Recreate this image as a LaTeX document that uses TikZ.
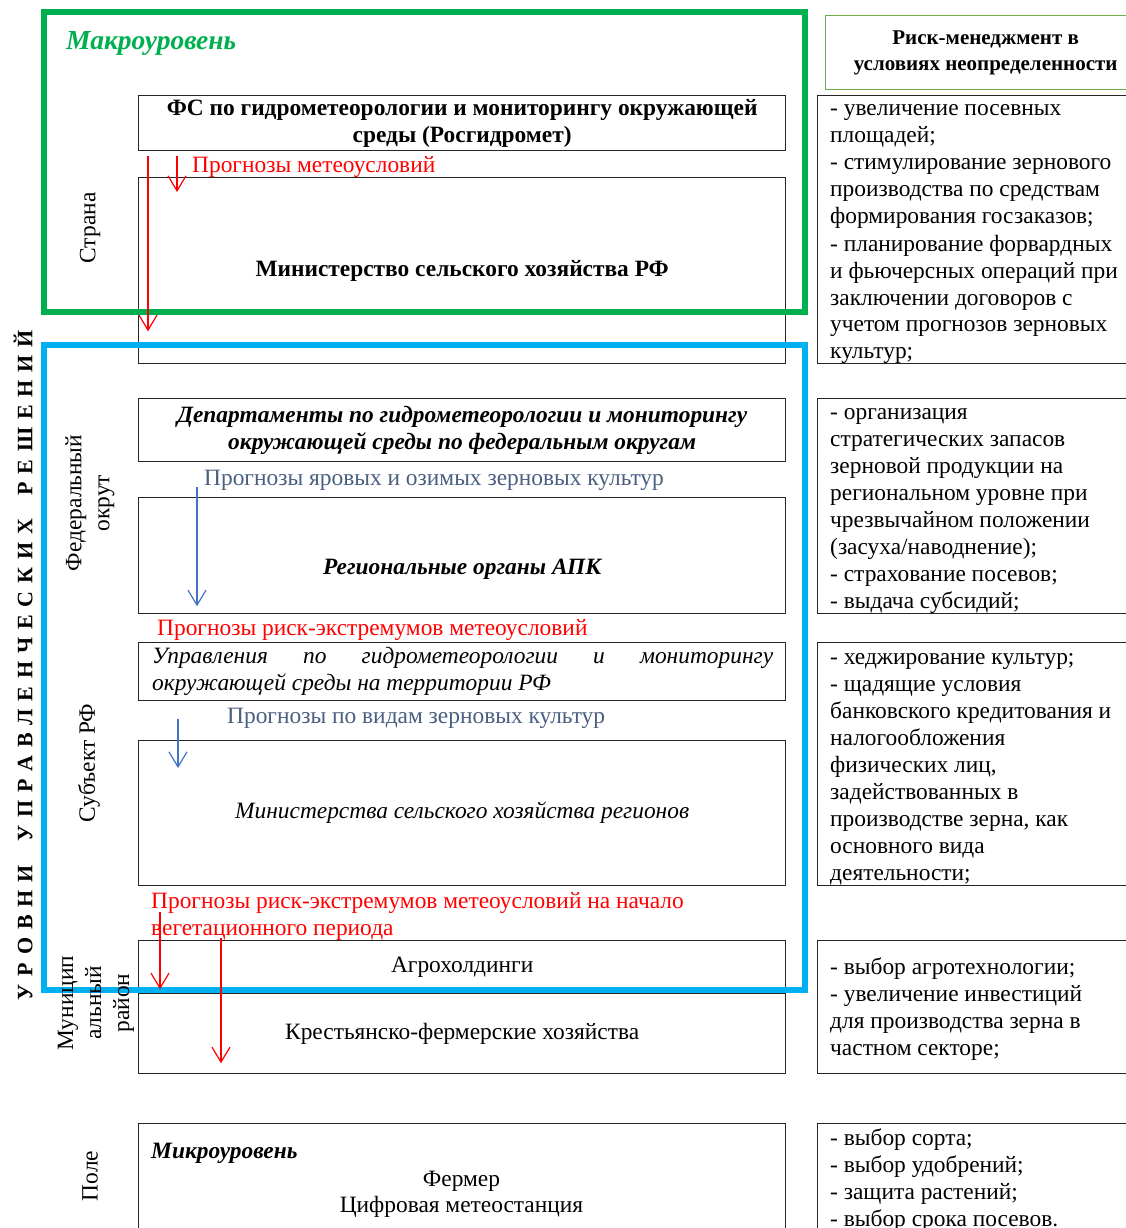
\documentclass[tikz,border=0pt]{standalone}
\usepackage{fontspec}
\setmainfont{Liberation Serif}
\usetikzlibrary{arrows.meta,calc}
\definecolor{mgreen}{HTML}{00B050}
\definecolor{mblue}{HTML}{00B0F0}
\definecolor{mred}{HTML}{FF0000}
\definecolor{arrblue}{HTML}{4472C4}
\definecolor{lblblue}{HTML}{4A5F80}
\definecolor{hdrgreen}{HTML}{70AD47}
\newcommand{\fs}[1]{\fontsize{#1}{27}\selectfont}
\begin{document}
\begin{tikzpicture}[x=1pt,y=1pt,
  box/.style={draw=black!85, line width=1.3pt, inner sep=0pt, anchor=north west},
  rbox/.style={draw=black!85, line width=1.3pt, inner sep=0pt, anchor=north west, minimum width=320pt},
  rtext/.style={anchor=base west, inner sep=0pt, font=\fs{23.4}},
  side/.style={rotate=90, inner sep=0pt, align=center, font=\fontsize{23.4}{28}\selectfont},
  lbl/.style={anchor=base west, inner sep=0pt, font=\fs{23.4}},
  frame/.style={line width=6pt},
  arr/.style={-{Straight Barb[length=15pt,width=18pt]}, line width=1.2pt}]
\useasboundingbox (0,0) rectangle (1126,-1228);
\fill[white] (0,0) rectangle (1126,-1228);

% main boxes
\node[box, minimum width=647pt, minimum height=55pt, align=center, font=\fs{23.4}\bfseries] (b1) at (138,-95)
  {ФС по гидрометеорологии и мониторингу окружающей\\среды (Росгидромет)};
\node[box, minimum width=647pt, minimum height=186pt, font=\fs{23.4}\bfseries] (b2) at (138,-177)
  {Министерство сельского хозяйства РФ};
\node[box, minimum width=647pt, minimum height=63pt, align=center, font=\fs{23.4}\bfseries\itshape] (b3) at (138,-398)
  {Департаменты по гидрометеорологии и мониторингу\\окружающей среды по федеральным округам};
\node[box, minimum width=647pt, minimum height=116pt] (b4) at (138,-497) {};
\node[font=\fs{23.4}\bfseries\itshape, inner sep=0pt] (b4t) at ($(b4.center)+(0,-14)$) {Региональные органы АПК};
\node[box, minimum width=647pt, minimum height=58pt] (b5) at (138,-642) {};
\node[anchor=west, inner sep=0pt, align=left, font=\fs{23.4}\itshape] (b5t) at ($(b5.west)+(14,0)$)
  {\makebox[621pt][s]{Управления по гидрометеорологии и мониторингу}\\окружающей среды на территории РФ};
\node[box, minimum width=647pt, minimum height=145pt, font=\fs{23.4}\itshape] (b6) at (138,-740)
  {Министерства сельского хозяйства регионов};
\node[box, minimum width=647pt, minimum height=53pt, font=\fs{23.4}] (b7) at (138,-940) {Агрохолдинги};
\node[box, minimum width=647pt, minimum height=80pt, font=\fs{23.4}] (b8) at (138,-993) {Крестьянско-фермерские хозяйства};
\node[box, minimum width=647pt, minimum height=120pt] (b9) at (138,-1123) {};
\node[anchor=base west, inner sep=0pt, font=\fs{23.4}\bfseries\itshape] (b9a) at (151,-1158) {Микроуровень};
\node[anchor=base, inner sep=0pt, font=\fs{23.4}] (b9b) at (461.5,-1186) {Фермер};
\node[anchor=base, inner sep=0pt, font=\fs{23.4}] (b9c) at (461.5,-1212) {Цифровая метеостанция};

% frames
\draw[frame, mgreen] (44,-12) rectangle (805,-312);
\draw[frame, mblue] (44,-345) rectangle (805,-990);
\node[anchor=base west, inner sep=0pt, text=mgreen, font=\fontsize{27.5}{30}\selectfont\bfseries\itshape] (macro) at (66,-50) {Макроуровень};

% right column
\node[draw=hdrgreen, line width=1.3pt, anchor=north west, minimum width=320pt, minimum height=74pt, align=center, inner sep=0pt, font=\fontsize{21}{26}\selectfont\bfseries] (hdr) at (825,-15)
  {Риск-менеджмент в\\условиях неопределенности};
\node[rbox, minimum height=268pt] (r1) at (817,-95) {};
\node[rbox, minimum height=215pt] (r2) at (817,-398) {};
\node[rbox, minimum height=243pt] (r3) at (817,-642) {};
\node[rbox, minimum height=133pt] (r4) at (817,-940) {};
\node[rbox, minimum height=120pt] (r5) at (817,-1123) {};

\node[rtext] (r1t) at (830,-116) {\parbox[t]{300pt}{\raggedright\fs{23.4}- увеличение посевных\\площадей;\\- стимулирование зернового\\производства по средствам\\формирования госзаказов;\\- планирование форвардных\\и фьючерсных операций при\\заключении договоров с\\учетом прогнозов зерновых\\культур;}};
\node[rtext] (r2t) at (830,-419) {\parbox[t]{300pt}{\raggedright\fs{23.4}- организация\\стратегических запасов\\зерновой продукции на\\региональном уровне при\\чрезвычайном положении\\(засуха/наводнение);\\- страхование посевов;\\- выдача субсидий;}};
\node[rtext] (r3t) at (830,-664) {\parbox[t]{300pt}{\raggedright\fs{23.4}- хеджирование культур;\\- щадящие условия\\банковского кредитования и\\налогообложения\\физических лиц,\\задействованных в\\производстве зерна, как\\основного вида\\деятельности;}};
\node[rtext] (r4t) at (830,-974) {\parbox[t]{300pt}{\raggedright\fs{23.4}- выбор агротехнологии;\\- увеличение инвестиций\\для производства зерна в\\частном секторе;}};
\node[rtext] (r5t) at (830,-1145) {\parbox[t]{300pt}{\raggedright\fs{23.4}- выбор сорта;\\- выбор удобрений;\\- защита растений;\\- выбор срока посевов.}};

% side labels
\node[side] (s1) at (90,-228) {Страна};
\node[side] (s2) at (90,-503) {Федеральный\\окрут};
\node[side] (s3) at (89,-763) {Субъект РФ};
\node[side] (s4) at (96,-1003) {Муницип\\альный\\район};
\node[side] (s5) at (90,-1176) {Поле};
\node[rotate=90, inner sep=0pt, font=\fontsize{22}{26}\selectfont\bfseries] (vt) at (23,-665)
  {\makebox[670pt]{У\hfill Р\hfill О\hfill В\hfill Н\hfill И\hfill\hfill\hfill У\hfill П\hfill Р\hfill А\hfill В\hfill Л\hfill Е\hfill Н\hfill Ч\hfill Е\hfill С\hfill К\hfill И\hfill Х\hfill\hfill\hfill Р\hfill Е\hfill Ш\hfill Е\hfill Н\hfill И\hfill Й}};

% flow labels
\node[lbl, text=mred] (l1) at (192,-172) {Прогнозы метеоусловий};
\node[lbl, text=lblblue] (l2) at (204,-485) {Прогнозы яровых и озимых зерновых культур};
\node[lbl, text=mred] (l3) at (157,-635) {Прогнозы риск-экстремумов метеоусловий};
\node[lbl, text=lblblue] (l4) at (227,-723) {Прогнозы по видам зерновых культур};
\node[lbl, text=mred] (l5) at (151,-908) {\parbox[t]{640pt}{\raggedright\fs{23.4}Прогнозы риск-экстремумов метеоусловий на начало\\вегетационного периода}};

% arrows
\coordinate (a1s) at ($(b1.south west)+(10,-5)$);
\coordinate (a1e) at ($(b2.south west)+(10,33)$);
\coordinate (a2s) at ($(b1.south west)+(39,-5)$);
\coordinate (a2e) at ($(b2.north west)+(39,-15)$);
\coordinate (a3s) at ($(b3.south west)+(59,-25)$);
\coordinate (a3e) at ($(b4.south west)+(59,8)$);
\coordinate (a4s) at ($(b5.south west)+(40,-18)$);
\coordinate (a4e) at ($(b6.north west)+(40,-28)$);
\coordinate (a5s) at (160,-912);
\coordinate (a5e) at ($(b7.south west)+(22,5)$);
\coordinate (a6s) at (221,-938);
\coordinate (a6e) at ($(b8.south west)+(83,11)$);
\draw[arr, mred] (a1s) -- (a1e);
\draw[arr, mred] (a2s) -- (a2e);
\draw[arr, arrblue] (a3s) -- (a3e);
\draw[arr, arrblue] (a4s) -- (a4e);
\draw[arr, mred] (a5s) -- (a5e);
\draw[arr, mred] (a6s) -- (a6e);
\end{tikzpicture}
\end{document}
